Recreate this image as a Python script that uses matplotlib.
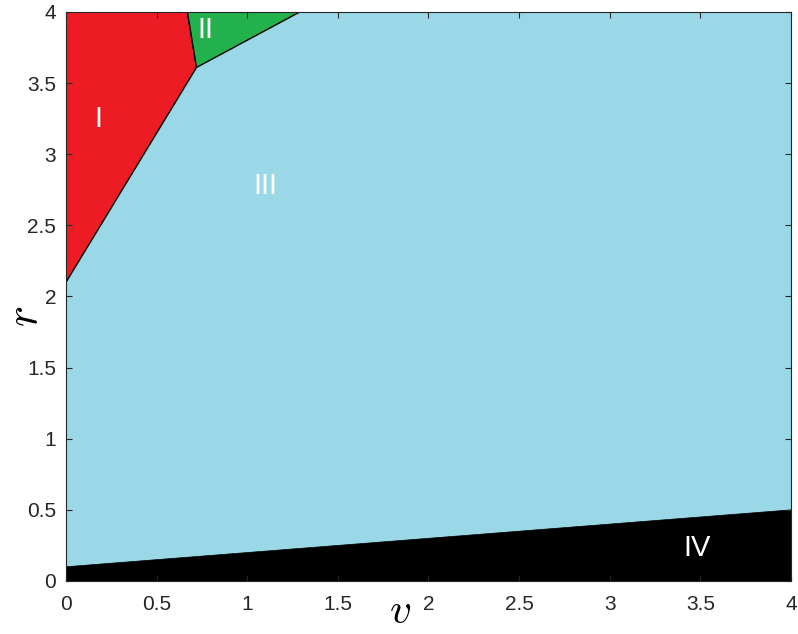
import matplotlib
matplotlib.use('Agg')
from matplotlib import pyplot as plt
import numpy as np

# region corners (v, r)
region_I_v = [0, 0, 0.67, 0.72]
region_I_r = [2.1, 4, 4, 3.61]
region_II_v = [0.67, 1.29, 0.72]
region_II_r = [4, 4, 3.61]
region_IV_v = [0, 0, 4, 4]
region_IV_r = [0, 0.1, 0.5, 0]

labels = ['I', 'II', 'III', 'IV']
label_v = [0.18, 0.77, 1.1, 3.48]
label_r = [3.25, 3.87, 2.78, 0.23]

tick_vals = [0, 0.5, 1, 1.5, 2, 2.5, 3, 3.5, 4]
tick_text = ['0', '0.5', '1', '1.5', '2', '2.5', '3', '3.5', '4']

plt.rcParams['font.family'] = ['Liberation Sans', 'DejaVu Sans']
plt.rcParams['mathtext.fontset'] = 'cm'

fig = plt.figure(figsize=(7.98, 6.34), dpi=100)
ax = fig.add_axes([0.0827, 0.0836, 0.9085, 0.8975])
ax.set_facecolor('#9AD8E8')

ax.fill(region_I_v, region_I_r, color='#ED1C24', ec='black', lw=1)
ax.fill(region_II_v, region_II_r, color='#22B14C', ec='black', lw=1)
ax.fill(region_IV_v, region_IV_r, color='black', ec='black', lw=0.5)

for i in range(len(labels)):
    ax.text(label_v[i], label_r[i], labels[i], color='white', fontsize=21,
            ha='center', va='center')

ax.set_xlim(0, 4)
ax.set_ylim(0, 4)
ax.set_xticks(tick_vals)
ax.set_yticks(tick_vals)
ax.set_xticklabels(tick_text)
ax.set_yticklabels(tick_text)
ax.tick_params(direction='in', length=4, labelsize=15, colors='#262626',
               top=True, right=True)
ax.tick_params(axis='x', pad=10)
ax.tick_params(axis='y', pad=7)
for s in ax.spines.values():
    s.set_color('#262626')
    s.set_linewidth(0.8)
ax.set_axisbelow(False)

fig.text(400 / 798, 1 - 612 / 634, '$v$', fontsize=31, ha='center', va='center')
fig.text(25 / 798, 1 - 316 / 634, '$r$', fontsize=32, ha='center', va='center',
         rotation=90)

plt.savefig('out.png', dpi=100)
